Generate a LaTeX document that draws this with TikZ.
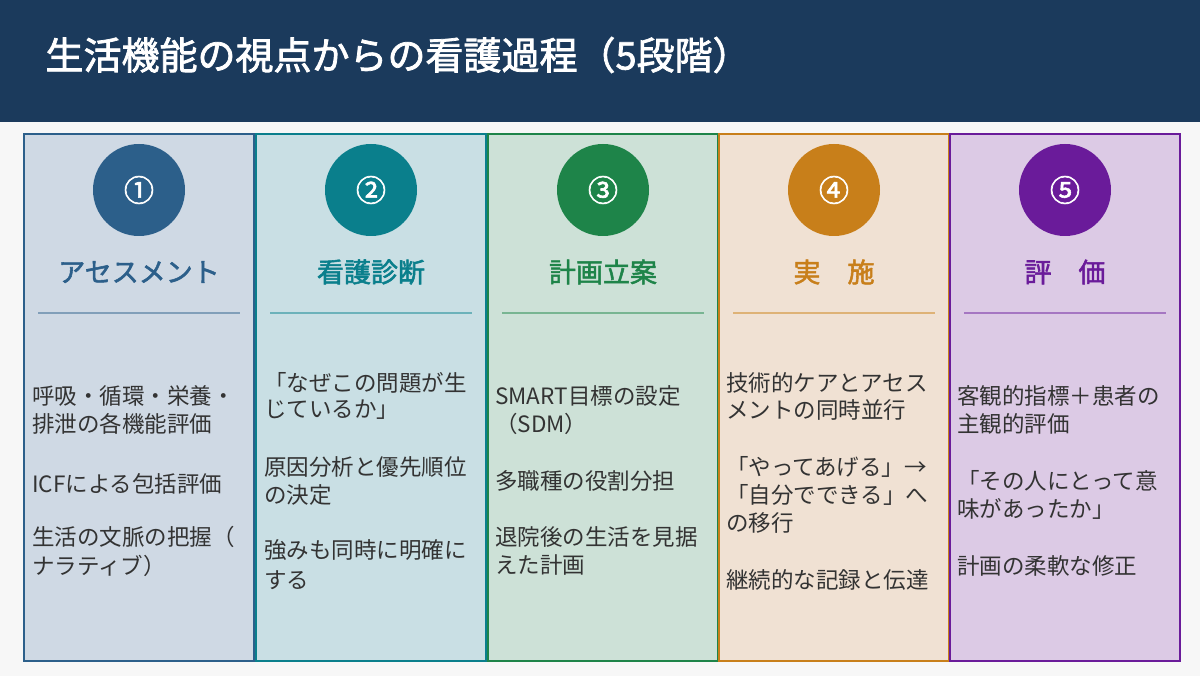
\documentclass[tikz,border=0pt]{standalone}
\usepackage{fontspec}
\setmainfont{Noto Sans CJK JP}
\newfontfamily\heavy{Noto Sans CJK JP}[FakeBold=2]
\begin{document}
\begin{tikzpicture}[x=1pt,y=-1pt,
  col/.style={draw=#1,line width=1.2pt},
  num/.style={circle,fill=#1,minimum size=92pt,inner sep=0,text=white,font=\fontsize{30}{32}\selectfont\heavy},
  head/.style={text=#1,font=\fontsize{27}{30}\selectfont\heavy,anchor=center},
  body/.style={anchor=west,text=black!80,font=\fontsize{22.5}{24}\selectfont,inner sep=0}]
\definecolor{hdr}{HTML}{1B3A5C}
\definecolor{cA}{HTML}{2C5F8A}\definecolor{fA}{HTML}{CFD9E4}
\definecolor{cB}{HTML}{0A7F8C}\definecolor{fB}{HTML}{C9DFE4}
\definecolor{cC}{HTML}{1E8449}\definecolor{fC}{HTML}{CDE1D7}
\definecolor{cD}{HTML}{C87F1A}\definecolor{fD}{HTML}{F0E1D3}
\definecolor{cE}{HTML}{6A1B9A}\definecolor{fE}{HTML}{DCCAE5}
\useasboundingbox (0,0) rectangle (1200,676);
\fill[black!3] (0,0) rectangle (1200,676);
\fill[hdr] (0,0) rectangle (1200,122);
\node[anchor=west,text=white,font=\fontsize{38}{40}\selectfont\heavy] (title) at (42,55) {生活機能の視点からの看護過程（5段階）};
\foreach \x/\c/\f/\n/\h [count=\i] in {24/cA/fA/①/アセスメント,256/cB/fB/②/看護診断,488/cC/fC/③/計画立案,719/cD/fD/④/実　施,950/cE/fE/⑤/評　価}{
  \fill[\f] (\x,134) rectangle ++(230,527);
  \draw[col=\c] (\x,134) rectangle ++(230,527);
  \node[num=\c] (n\i) at (\x+115,190) {\n};
  \node[head=\c] (h\i) at (\x+115,272) {\h};
  \draw[\c!60,line width=1.2pt] (\x+14,313) -- (\x+216,313);
}
\foreach \x/\y/\t [count=\j] in {
 32/396/呼吸・循環・栄養・, 32/424/排泄の各機能評価, 32/484/ICFによる包括評価, 32/537/生活の文脈の把握（, 32/566/ナラティブ）,
 264/383/「なぜこの問題が生, 264/410/じているか」, 264/467/原因分析と優先順位, 264/495/の決定, 264/550/強みも同時に明確に, 264/580/する,
 495/396/SMART目標の設定, 495/424/（SDM）, 495/481/多職種の役割分担, 495/537/退院後の生活を見据, 495/565/えた計画,
 726/383/技術的ケアとアセス, 726/410/メントの同時並行, 726/467/「やってあげる」→, 726/495/「自分でできる」へ, 726/523/の移行, 726/580/継続的な記録と伝達,
 957/396/客観的指標＋患者の, 957/424/主観的評価, 957/481/「その人にとって意, 957/509/味があったか」, 957/566/計画の柔軟な修正}{
  \node[body] (t\j) at (\x,\y) {\t};
}
\end{tikzpicture}
\end{document}
